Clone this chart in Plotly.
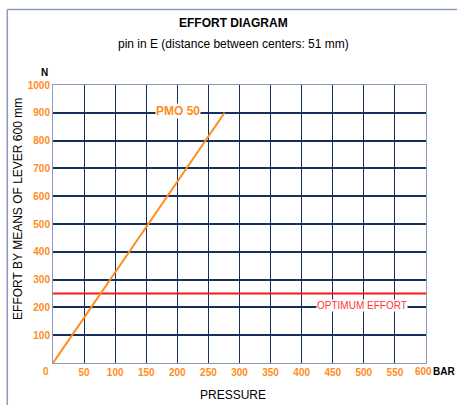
import plotly.graph_objects as go

# Data
pressure_pmo50 = [0, 276]
effort_pmo50 = [0, 900]
optimum_effort = 250
optimum_x = [0, 600]
x_ticks = [50, 100, 150, 200, 250, 300, 350, 400, 450, 500, 550]
y_ticks = [100, 200, 300, 400, 500, 600, 700, 800, 900, 1000]

ORANGE = "#ff8c1a"
NAVY = "#15305e"
FRAME = "#8a9ac0"
FONT = "Liberation Sans, Arial, sans-serif"

fig = go.Figure()
fig.add_trace(go.Scatter(x=optimum_x, y=[optimum_effort] * 2, mode="lines",
                         line=dict(color="#ff1a1a", width=2), hoverinfo="skip"))
fig.add_trace(go.Scatter(x=pressure_pmo50, y=effort_pmo50, mode="lines",
                         line=dict(color=ORANGE, width=2), hoverinfo="skip"))

fig.update_layout(
    width=457, height=405,
    margin=dict(l=53, r=31, t=85, b=42),
    paper_bgcolor="white", plot_bgcolor="white",
    showlegend=False,
    font=dict(family=FONT),
    xaxis=dict(range=[0, 600], tickvals=x_ticks, showgrid=True, gridcolor=NAVY,
               gridwidth=1.3, zeroline=False, showline=True, linecolor=FRAME,
               linewidth=1, mirror=True, ticks="",
               tickfont=dict(color=ORANGE, size=10, family=FONT, weight="bold")),
    yaxis=dict(range=[0, 1000], tickvals=[0] + y_ticks, ticktext=[""] + [str(v) for v in y_ticks],
               showgrid=True, gridcolor=NAVY,
               gridwidth=2, zeroline=False, showline=True, linecolor=FRAME,
               linewidth=1, mirror=True, ticks="",
               tickfont=dict(color=ORANGE, size=10, family=FONT, weight="bold")),
)

def px_x(px):
    return (px - 52.7) / 373.0

def px_y(py):
    return (363.3 - py) / 277.8

annos = [
    dict(text="<b>EFFORT DIAGRAM</b>", x=px_x(233), y=px_y(24), size=12, color="black", xa="center"),
    dict(text="pin in E (distance between centers: 51 mm)", x=px_x(233), y=px_y(45), size=12, color="black", xa="center"),
    dict(text="<b>N</b>", x=px_x(44), y=px_y(73), size=10, color="black", xa="center"),
    dict(text="PRESSURE", x=px_x(233), y=px_y(395), size=12, color="black", xa="center"),
    dict(text="<b>BAR</b>", x=px_x(456), y=px_y(372), size=10, color="black", xa="right"),
    dict(text="<b>600</b>", x=px_x(423), y=px_y(372), size=10, color=ORANGE, xa="center"),
    dict(text="<b>0</b>", x=px_x(46), y=px_y(372), size=10, color=ORANGE, xa="center"),
]
for a in annos:
    fig.add_annotation(text=a["text"], x=a["x"], y=a["y"], xref="paper", yref="paper",
                       showarrow=False, xanchor=a["xa"], yanchor="middle", borderpad=0,
                       font=dict(size=a["size"], color=a["color"], family=FONT))

fig.add_annotation(text="EFFORT BY MEANS OF LEVER 600 mm", x=px_x(17), y=px_y(209),
                   xref="paper", yref="paper", showarrow=False, textangle=-90,
                   xanchor="center", yanchor="middle",
                   font=dict(size=12, color="black", family=FONT))

fig.add_annotation(text="<b>PMO 50</b>", x=201, y=905, xref="x", yref="y", showarrow=False,
                   bgcolor="white", borderpad=0,
                   font=dict(size=12, color=ORANGE, family=FONT))
fig.add_annotation(text="OPTIMUM EFFORT", x=497, y=207, xref="x", yref="y", showarrow=False,
                   bgcolor="white", borderpad=0,
                   font=dict(size=10, color="#ff3333", family=FONT))

# outer frame (left and top edges visible)
fig.add_shape(type="line", xref="paper", yref="paper",
              x0=px_x(7), x1=px_x(7), y0=px_y(410), y1=px_y(10),
              line=dict(color=FRAME, width=1.5))
fig.add_shape(type="line", xref="paper", yref="paper",
              x0=px_x(7), x1=px_x(470), y0=px_y(10), y1=px_y(10),
              line=dict(color=FRAME, width=1.5))

fig.write_html("out.html", config={"displayModeBar": False},
               post_script="document.body.style.margin='0px';document.body.style.overflow='hidden';")
